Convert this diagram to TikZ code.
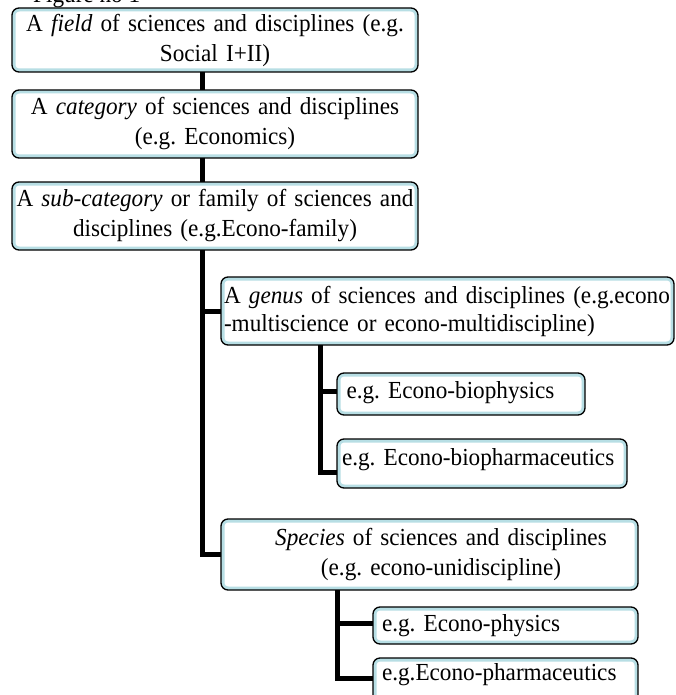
\documentclass[tikz,border=0pt]{standalone}
\usepackage{fontspec}
\setmainfont{Liberation Serif}[FakeStretch=0.947]
\definecolor{boxteal}{RGB}{183,222,228}
\frenchspacing
\begin{document}
\begin{tikzpicture}[x=1pt,y=-1pt,
  box/.style={draw=black, line width=1.3pt, fill=white, rounded corners=7pt,
    anchor=north west, outer sep=0pt, inner ysep=2pt,
    font=\fontsize{24.5}{30}\selectfont,
    path picture={\draw[boxteal, line width=7pt, rounded corners=7pt]
      (path picture bounding box.south west) rectangle (path picture bounding box.north east);}},
  conn/.style={draw=black, line width=5pt}]
\useasboundingbox (0,0) rectangle (675,695);

\node[anchor=base west, inner sep=0pt, font=\fontsize{24.5}{30}\selectfont] (fig) at (33,3) {Figure no 1};

\node[box, minimum width=406pt, minimum height=64pt, text width=402pt, inner xsep=2pt, align=center]
  (b1) at (12,8) {A \textit{field} of sciences and disciplines (e.g.\\ Social I+II)};
\node[box, minimum width=406pt, minimum height=68pt, text width=402pt, inner xsep=2pt, align=center]
  (b2) at (12,90) {A \textit{category} of sciences and disciplines\\ (e.g. Economics)};
\node[box, minimum width=406pt, minimum height=68pt, text width=402pt, inner xsep=2pt, align=center]
  (b3) at (12,182) {\mbox{A \textit{sub-category} or family of sciences and}\\ disciplines (e.g.Econo-family)};

\node[box, minimum width=453pt, minimum height=68pt, text width=447pt, inner xsep=3pt, align=left,
  font=\fontsize{24.5}{28}\selectfont]
  (genus) at (221,277) {\mbox{A \textit{genus} of sciences and disciplines (e.g.econo}\\ \mbox{-multiscience or econo-multidiscipline)}};

\node[box, minimum width=248pt, minimum height=42pt, text width=229pt, inner xsep=9.5pt, align=left,
  text height=16.5pt, text depth=8.5pt]
  (bio1) at (337,373) {\mbox{e.g. Econo-biophysics}};
\node[box, minimum width=290pt, minimum height=49pt, text width=280pt, inner xsep=5pt, align=left,
  text height=16.5pt, text depth=13.5pt]
  (bio2) at (337,439) {\mbox{e.g. Econo-biopharmaceutics}};

\node[box, minimum width=417pt, minimum height=71pt, text width=409pt, inner xsep=4pt, align=center]
  (species) at (221,519) {\hspace*{23pt}\textit{Species} of sciences and disciplines\\ \hspace*{23pt}(e.g. econo-unidiscipline)};

\node[box, minimum width=265pt, minimum height=37pt, text width=247pt, inner xsep=9pt, align=left,
  text height=16.5pt, text depth=4.1pt]
  (phys) at (373,607) {\mbox{e.g. Econo-physics}};
\node[box, minimum width=265pt, minimum height=45pt, text width=247pt, inner xsep=9pt, align=left,
  text height=16.5pt, text depth=17.5pt]
  (pharm) at (373,658) {\mbox{e.g.Econo-pharmaceutics}};

\draw[conn] ([xshift=-13pt]b1.south) -- ([xshift=-13pt]b2.north);
\draw[conn] ([xshift=-13pt]b2.south) -- ([xshift=-13pt]b3.north);
\coordinate (t1) at ([xshift=-13pt]b3.south);
\draw[conn] (t1) |- (genus.west);
\draw[conn] (t1) |- (species.west);
\coordinate (t2) at ([xshift=99pt]genus.south west);
\draw[conn] (t2) |- ([yshift=3pt]bio1.west);
\draw[conn] (t2) |- ([yshift=-8.5pt]bio2.west);
\coordinate (t3) at ([xshift=116pt]species.south west);
\draw[conn] (t3) |- ([yshift=2.5pt]phys.west);
\draw[conn] (t3) |- ([yshift=2.5pt]pharm.west);
\end{tikzpicture}
\end{document}
